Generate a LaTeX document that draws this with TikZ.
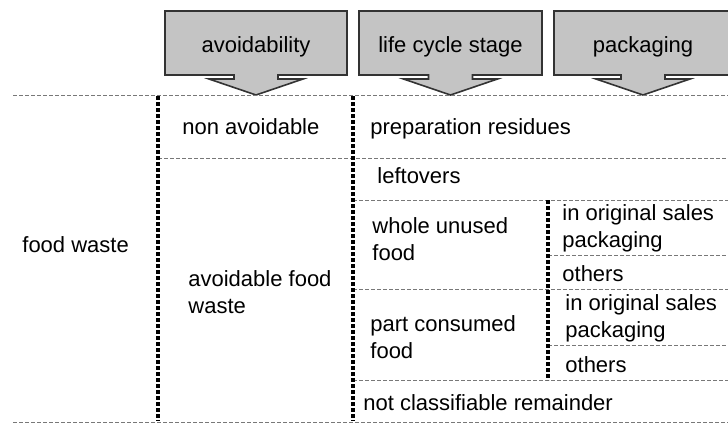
\documentclass[tikz,border=0pt]{standalone}
\usepackage{fontspec}
\setmainfont{Liberation Sans}
\definecolor{boxgray}{RGB}{196,196,196}
\definecolor{rulegray}{RGB}{120,120,120}
\tikzset{
  cell/.style={anchor=base west,inner sep=0pt,align=left,font=\fontsize{11}{13.5}\selectfont},
  head/.style={inner sep=0pt,font=\fontsize{11}{13.5}\selectfont},
  hrule/.style={draw=rulegray,line width=0.5pt,dash pattern=on 2pt off 1pt},
  vrule/.style={draw=black,line width=1.6pt,dash pattern=on 2pt off 1pt},
  headbox/.style={draw=black!80,fill=boxgray,line width=0.8pt,line join=miter}
}
\begin{document}
\begin{tikzpicture}[x=0.5pt,y=-0.5pt]
 \clip (0,0) rectangle (728,423);
 \useasboundingbox (0,0) rectangle (728,423);
 % header arrows
 \foreach \l/\r/\t/\n in {165/347/avoidability/avo,359/542/life cycle stage/lcs,554/732/packaging/pkg}{
  \pgfmathsetmacro{\c}{(\l+\r)/2}
  \draw[headbox] (\l,11) -- (\r,11) -- (\r,75) -- (\c+22,75) -- (\c+22,79) -- (\c+47,79)
   -- (\c,95) -- (\c-47,79) -- (\c-22,79) -- (\c-22,75) -- (\l,75) -- cycle;
  \node[head] (\n) at (\c,47) {\t};
 }
 % horizontal rules
 \draw[hrule] (13,95) -- (728,95);
 \draw[hrule] (158,158) -- (728,158);
 \draw[hrule] (353,200) -- (728,200);
 \draw[hrule] (548,255) -- (728,255);
 \draw[hrule] (353,289) -- (728,289);
 \draw[hrule] (548,345) -- (728,345);
 \draw[hrule] (353,380) -- (728,380);
 \draw[hrule] (13,422) -- (728,422);
 % vertical rules
 \draw[vrule] (158,96) -- (158,421);
 \draw[vrule] (353,96) -- (353,421);
 \draw[vrule] (548,200) -- (548,380);
 % cells (multi-line: base = last line)
 \node[cell] (fw) at (22,252) {food waste};
 \node[cell] (nonavo) at (182,134) {non avoidable};
 \node[cell] (avofw) at (188,313) {avoidable food\\waste};
 \node[cell] (prep) at (370,134) {preparation residues};
 \node[cell] (left) at (377,183) {leftovers};
 \node[cell] (whole) at (372,260) {whole unused\\food};
 \node[cell] (part) at (370,358) {part consumed\\food};
 \node[cell] (rest) at (363,410) {not classifiable remainder};
 \node[cell] (origA) at (562,247) {in original sales\\packaging};
 \node[cell] (othA) at (562,281) {others};
 \node[cell] (origB) at (565,337) {in original sales\\packaging};
 \node[cell] (othB) at (565,372) {others};
\end{tikzpicture}
\end{document}
